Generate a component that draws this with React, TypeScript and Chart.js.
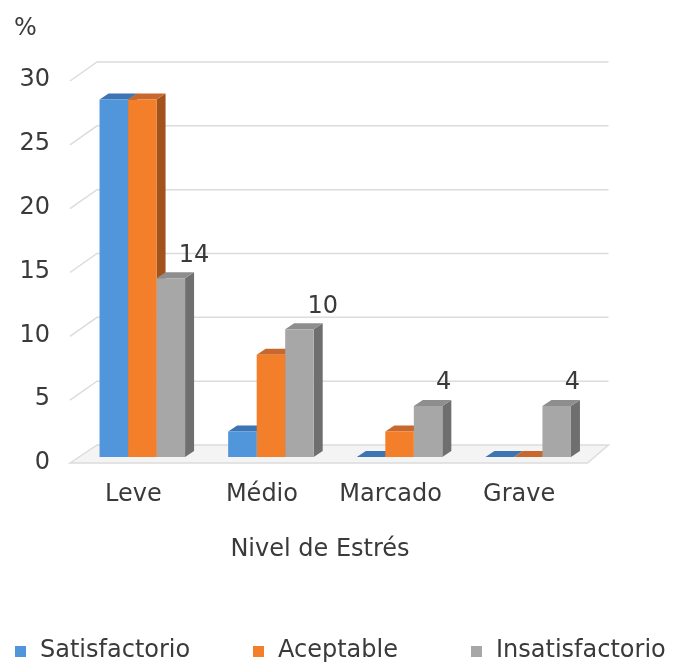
import { useEffect, useRef } from 'react';
import { Chart, registerables } from 'chart.js';

Chart.register(...registerables);

const categories = ['Leve', 'Médio', 'Marcado', 'Grave'];
const seriesNames = ['Satisfactorio', 'Aceptable', 'Insatisfactorio'];
const satisfactorio = [28, 2, 0, 0];
const aceptable = [28, 8, 2, 0];
const insatisfactorio = [14, 10, 4, 4];
const yMin = 0;
const yMax = 30;
const yStep = 5;
const xTitle = 'Nivel de Estrés';
const yUnit = '%';

const FRONT = ['#5195DB', '#F47F2B', '#A7A7A7'];
const SIDE = ['#2F5E92', '#A4521C', '#6F6F6F'];
const TOP = ['#3C74B4', '#C8682C', '#8E8E8E'];
const FONT = "'DejaVu Sans', Verdana, sans-serif";
const TEXT = '#3a3a3a';
const FS = 24;
const DX = 9;
const DY = -6;

const threeD = {
  id: 'threeD',
  beforeDatasetsDraw(chart: any) {
    const { ctx, chartArea } = chart;
    const y = chart.scales.y;
    ctx.save();
    const y0 = y.getPixelForValue(0);
    const fl = chartArea.left - 8;
    const bl = chartArea.left + 19;
    const fr = chartArea.right - 5;
    const br = chartArea.right + 16;
    // floor
    ctx.beginPath();
    ctx.moveTo(fl, y0 + 6);
    ctx.lineTo(bl, y0 - 12);
    ctx.lineTo(br, y0 - 12);
    ctx.lineTo(fr, y0 + 6);
    ctx.closePath();
    ctx.fillStyle = '#f4f4f4';
    ctx.fill();
    ctx.strokeStyle = '#dcdcdc';
    ctx.lineWidth = 1.5;
    ctx.stroke();
    // wall grid lines
    for (let v = yMin + yStep; v <= yMax; v += yStep) {
      const yy = y.getPixelForValue(v);
      ctx.beginPath();
      ctx.moveTo(fl, yy + 7);
      ctx.lineTo(bl, yy - 12);
      ctx.lineTo(br, yy - 12);
      ctx.stroke();
    }
    // side and top faces
    const n = chart.data.labels.length;
    for (let i = 0; i < n; i++) {
      chart.data.datasets.forEach((_: any, d: number) => {
        const el = chart.getDatasetMeta(d).data[i];
        const p = el.getProps(['x', 'y', 'base', 'width'], true);
        const left = p.x - p.width / 2;
        const right = p.x + p.width / 2;
        ctx.fillStyle = SIDE[d];
        ctx.beginPath();
        ctx.moveTo(right, p.y);
        ctx.lineTo(right + DX, p.y + DY);
        ctx.lineTo(right + DX, p.base + DY);
        ctx.lineTo(right, p.base);
        ctx.closePath();
        ctx.fill();
        ctx.fillStyle = TOP[d];
        ctx.beginPath();
        ctx.moveTo(left, p.y);
        ctx.lineTo(left + DX, p.y + DY);
        ctx.lineTo(right + DX, p.y + DY);
        ctx.lineTo(right, p.y);
        ctx.closePath();
        ctx.fill();
      });
    }
    ctx.restore();
  },
  afterDatasetsDraw(chart: any) {
    const { ctx } = chart;
    ctx.save();
    ctx.font = `${FS}px ${FONT}`;
    ctx.fillStyle = TEXT;
    ctx.textAlign = 'left';
    ctx.textBaseline = 'middle';
    const meta = chart.getDatasetMeta(2);
    meta.data.forEach((el: any, i: number) => {
      const p = el.getProps(['x', 'y'], true);
      ctx.fillText(String(insatisfactorio[i]), p.x + 8, p.y - 23);
    });
    // axis title and unit
    ctx.textAlign = 'center';
    ctx.fillText(xTitle, 320, 550);
    ctx.textAlign = 'left';
    ctx.fillText(yUnit, 14, 29);
    // legend
    const lx = [15, 253, 471];
    seriesNames.forEach((name, d) => {
      ctx.fillStyle = FRONT[d];
      ctx.fillRect(lx[d], 646, 11, 11);
      ctx.fillStyle = TEXT;
      ctx.fillText(name, lx[d] + 25, 651);
    });
    ctx.restore();
  },
};

export default function App() {
  const ref = useRef<HTMLCanvasElement>(null);
  useEffect(() => {
    document.body.style.margin = '0';
    const chart = new Chart(ref.current!, {
      type: 'bar',
      data: {
        labels: categories,
        datasets: [satisfactorio, aceptable, insatisfactorio].map((vals, d) => ({
          label: seriesNames[d],
          data: vals,
          backgroundColor: FRONT[d],
          borderWidth: 0,
          categoryPercentage: 0.665,
          barPercentage: 1,
        })),
      },
      options: {
        responsive: false,
        animation: false,
        layout: { padding: { top: 74, right: 82.5, left: 0, bottom: 0 } },
        plugins: { legend: { display: false }, tooltip: { enabled: false } },
        scales: {
          x: {
            grid: { display: false, drawTicks: false },
            border: { display: false },
            ticks: { font: { family: FONT, size: FS }, color: TEXT, padding: 23, labelOffset: -9 },
            afterFit: (s: any) => { s.height = 205; },
          },
          y: {
            min: yMin,
            max: yMax,
            grid: { display: false, drawTicks: false },
            border: { display: false },
            ticks: { stepSize: yStep, font: { family: FONT, size: FS }, color: TEXT, padding: 28, labelOffset: 6 },
            afterFit: (s: any) => { s.width = 78; },
          },
        },
      },
      plugins: [threeD],
    });
    return () => chart.destroy();
  }, []);
  return <canvas ref={ref} width={675} height={662} style={{ display: 'block' }} />;
}
